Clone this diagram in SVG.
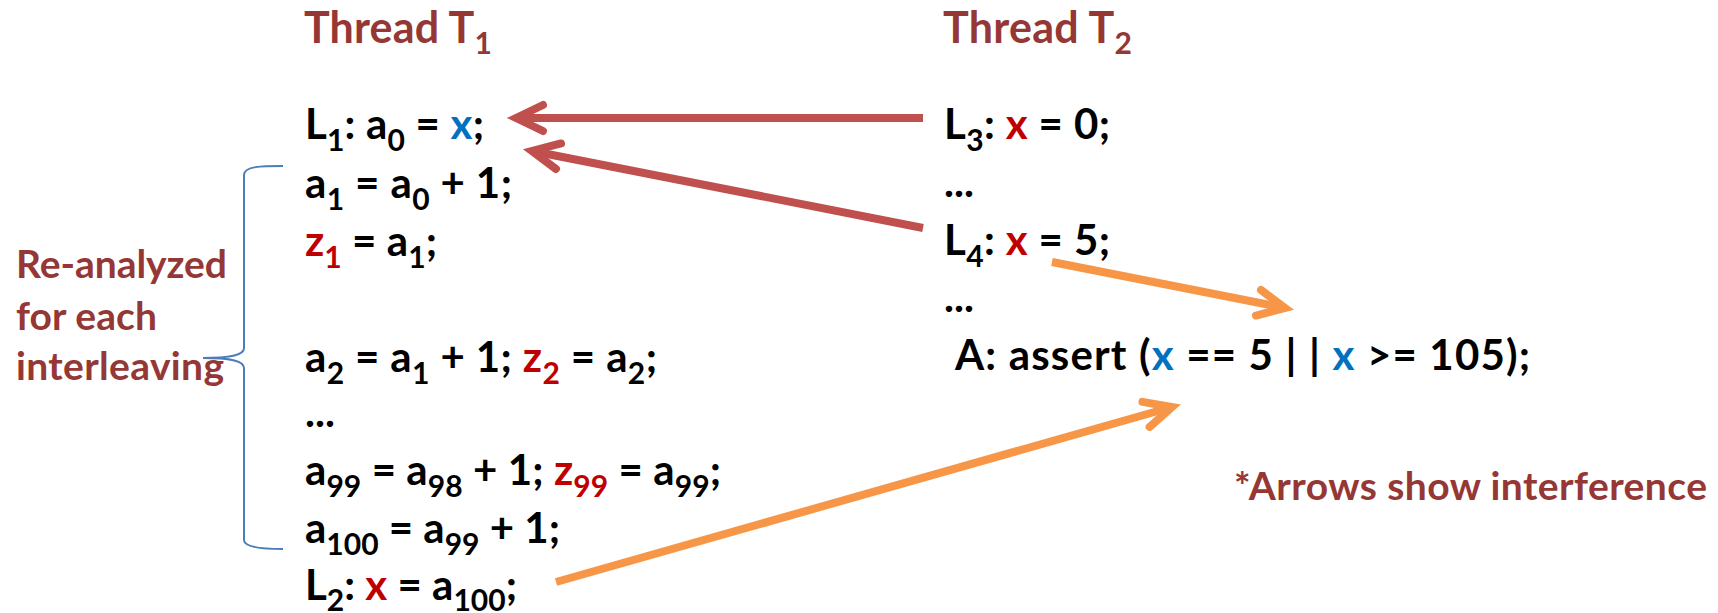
<svg xmlns="http://www.w3.org/2000/svg" width="1718" height="613" viewBox="0 0 1718 613">
<defs>
<style>
text { font-family: Lato, "Liberation Sans", sans-serif; font-weight: 700; }
.code { font-size: 42px; fill: #000; }
.title { font-size: 43px; fill: #953735; }
.note { font-size: 39px; fill: #953735; }
.s { font-size: 30px; }
.bx { fill: #0070c0; }
.rx { fill: #c00000; }
.red { fill: none; stroke: #c0504d; stroke-width: 8; }
.org { fill: none; stroke: #f79646; stroke-width: 8; }
</style>
<marker id="ahRed" markerUnits="userSpaceOnUse" viewBox="-40 -24 48 48" refX="0" refY="0" markerWidth="48" markerHeight="48" orient="auto" overflow="visible">
<path d="M-27,-13 L0,0 L-27,13" fill="none" stroke="#c0504d" stroke-width="8" stroke-linecap="round" stroke-linejoin="miter"/>
</marker>
<marker id="ahOrg" markerUnits="userSpaceOnUse" viewBox="-40 -24 48 48" refX="0" refY="0" markerWidth="48" markerHeight="48" orient="auto" overflow="visible">
<path d="M-27,-13 L0,0 L-27,13" fill="none" stroke="#f79646" stroke-width="8" stroke-linecap="round" stroke-linejoin="miter"/>
</marker>
</defs>
<rect width="1718" height="613" fill="#fff"/>

<g id="title-t1"><text class="title" x="304" y="43" textLength="188" lengthAdjust="spacing">Thread T<tspan class="s" dy="11">1</tspan></text></g>
<g id="title-t2"><text class="title" x="943" y="43" textLength="189" lengthAdjust="spacing">Thread T<tspan class="s" dy="11">2</tspan></text></g>

<g id="t1-code">
<text class="code" x="305" y="139" textLength="179" lengthAdjust="spacing">L<tspan class="s" dy="12">1</tspan><tspan dy="-12">: a</tspan><tspan class="s" dy="12">0</tspan><tspan dy="-12"> = </tspan><tspan class="bx">x</tspan>;</text>
<text class="code" x="305" y="198" textLength="207" lengthAdjust="spacing">a<tspan class="s" dy="12">1</tspan><tspan dy="-12"> = a</tspan><tspan class="s" dy="12">0</tspan><tspan dy="-12"> + 1;</tspan></text>
<text class="code" x="305" y="256" textLength="132" lengthAdjust="spacing"><tspan class="rx">z</tspan><tspan class="s rx" dy="12">1</tspan><tspan dy="-12"> = a</tspan><tspan class="s" dy="12">1</tspan><tspan dy="-12">;</tspan></text>
<text class="code" x="305" y="372" textLength="352" lengthAdjust="spacing">a<tspan class="s" dy="12">2</tspan><tspan dy="-12"> = a</tspan><tspan class="s" dy="12">1</tspan><tspan dy="-12"> + 1; </tspan><tspan class="rx">z</tspan><tspan class="s rx" dy="12">2</tspan><tspan dy="-12"> = a</tspan><tspan class="s" dy="12">2</tspan><tspan dy="-12">;</tspan></text>
<text class="code" x="305" y="427">...</text>
<text class="code" x="305" y="485" textLength="416" lengthAdjust="spacing">a<tspan class="s" dy="12">99</tspan><tspan dy="-12"> = a</tspan><tspan class="s" dy="12">98</tspan><tspan dy="-12"> + 1; </tspan><tspan class="rx">z</tspan><tspan class="s rx" dy="12">99</tspan><tspan dy="-12"> = a</tspan><tspan class="s" dy="12">99</tspan><tspan dy="-12">;</tspan></text>
<text class="code" x="305" y="543" textLength="255" lengthAdjust="spacing">a<tspan class="s" dy="12">100</tspan><tspan dy="-12"> = a</tspan><tspan class="s" dy="12">99</tspan><tspan dy="-12"> + 1;</tspan></text>
<text class="code" x="305" y="600" textLength="212" lengthAdjust="spacing">L<tspan class="s" dy="11">2</tspan><tspan dy="-11">: </tspan><tspan class="rx">x</tspan> = a<tspan class="s" dy="11">100</tspan><tspan dy="-11">;</tspan></text>
</g>

<g id="t2-code">
<text class="code" x="944" y="139" textLength="166" lengthAdjust="spacing">L<tspan class="s" dy="12">3</tspan><tspan dy="-12">: </tspan><tspan class="rx">x</tspan> = 0;</text>
<text class="code" x="944" y="197">...</text>
<text class="code" x="944" y="255" textLength="166" lengthAdjust="spacing">L<tspan class="s" dy="12">4</tspan><tspan dy="-12">: </tspan><tspan class="rx">x</tspan> = 5;</text>
<text class="code" x="944" y="312">...</text>
<text class="code" x="955" y="370" textLength="575" lengthAdjust="spacing">A: assert (<tspan class="bx">x</tspan> == 5 | | <tspan class="bx">x</tspan> &gt;= 105);</text>
</g>

<g id="bracket"><path d="M283,166 C262,166 244,166 244,175 L244,348 C244,355 232,358 203,358 C232,358 244,361 244,368 L244,540 C244,547 262,549 283,549" fill="none" stroke="#4a7ebb" stroke-width="2"/></g>

<g id="label-reanalyzed"><text class="note" x="16" y="278" textLength="211" lengthAdjust="spacing">Re-analyzed</text><text class="note" x="16" y="330" textLength="141" lengthAdjust="spacing">for each</text><text class="note" x="16" y="380" textLength="208" lengthAdjust="spacing">interleaving</text></g>

<g id="note"><text class="note" x="1234" y="500" textLength="473" lengthAdjust="spacing">*Arrows show interference</text></g>

<g id="connectors">
<line class="red" x1="923" y1="118" x2="516" y2="118" marker-end="url(#ahRed)"/>
<line class="red" x1="923" y1="228" x2="532" y2="151" marker-end="url(#ahRed)"/>
<line class="org" x1="1052" y1="262" x2="1285" y2="308" marker-end="url(#ahOrg)"/>
<line class="org" x1="556" y1="582" x2="1172" y2="407" marker-end="url(#ahOrg)"/>
</g>
</svg>
